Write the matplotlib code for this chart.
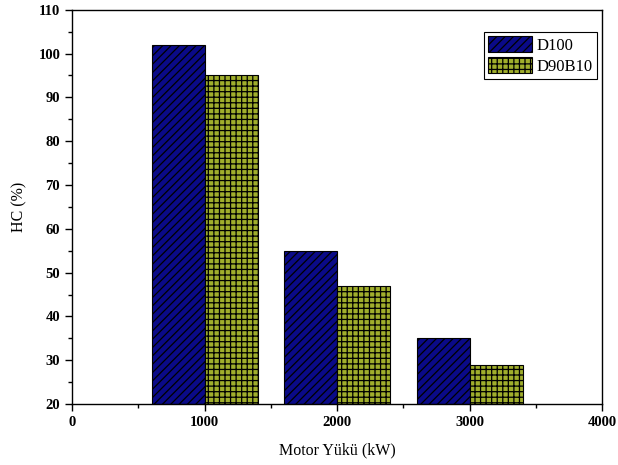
import matplotlib
matplotlib.use("Agg")
import matplotlib.pyplot as plt
from matplotlib.ticker import MultipleLocator

plt.rcParams['font.family'] = ['Liberation Serif', 'DejaVu Serif']
plt.rcParams['hatch.linewidth'] = 0.9

loads = [1000, 2000, 3000]
d100 = [102, 55, 35]
d90b10 = [95, 47, 29]
series_names = ["D100", "D90B10"]
xticks = [0, 1000, 2000, 3000, 4000]
yticks = [20, 30, 40, 50, 60, 70, 80, 90, 100, 110]

fig = plt.figure(figsize=(6.18, 4.65), dpi=100)
ax = fig.add_axes([0.1165, 0.131, 0.858, 0.848])

w = 400
base = 20
ax.bar([x - w/2 for x in loads], [v - base for v in d100], width=w, bottom=base,
       color='#0a0a88', edgecolor='black', hatch='////', linewidth=0.8, label=series_names[0])
ax.bar([x + w/2 for x in loads], [v - base for v in d90b10], width=w, bottom=base,
       color='#a0ae2c', edgecolor='black', hatch='+++', linewidth=0.8, label=series_names[1])

ax.set_xlim(0, 4000)
ax.set_ylim(20, 110)
ax.set_xticks(xticks)
ax.set_yticks(yticks)
ax.xaxis.set_minor_locator(MultipleLocator(500))
ax.yaxis.set_minor_locator(MultipleLocator(5))
ax.tick_params(axis='both', which='major', direction='out', length=5, width=1, labelsize=10.5)
ax.tick_params(axis='both', which='minor', direction='out', length=3, width=1)
for lab in ax.get_xticklabels() + ax.get_yticklabels():
    lab.set_fontweight('bold')
for s in ax.spines.values():
    s.set_linewidth(1)

ax.set_xlabel('Motor Yükü (kW)', fontsize=11.5, labelpad=10)
ax.set_ylabel('HC (%)', fontsize=11.5, labelpad=8)

leg = ax.legend(loc='upper right', bbox_to_anchor=(0.99, 0.943), fontsize=12, frameon=True,
                fancybox=False, edgecolor='black', framealpha=1, handlelength=2.6,
                handleheight=1.1, handletextpad=0.3, borderpad=0.25, labelspacing=0.2,
                borderaxespad=0)
leg.get_frame().set_linewidth(0.8)

fig.savefig('out.png', dpi=100)
